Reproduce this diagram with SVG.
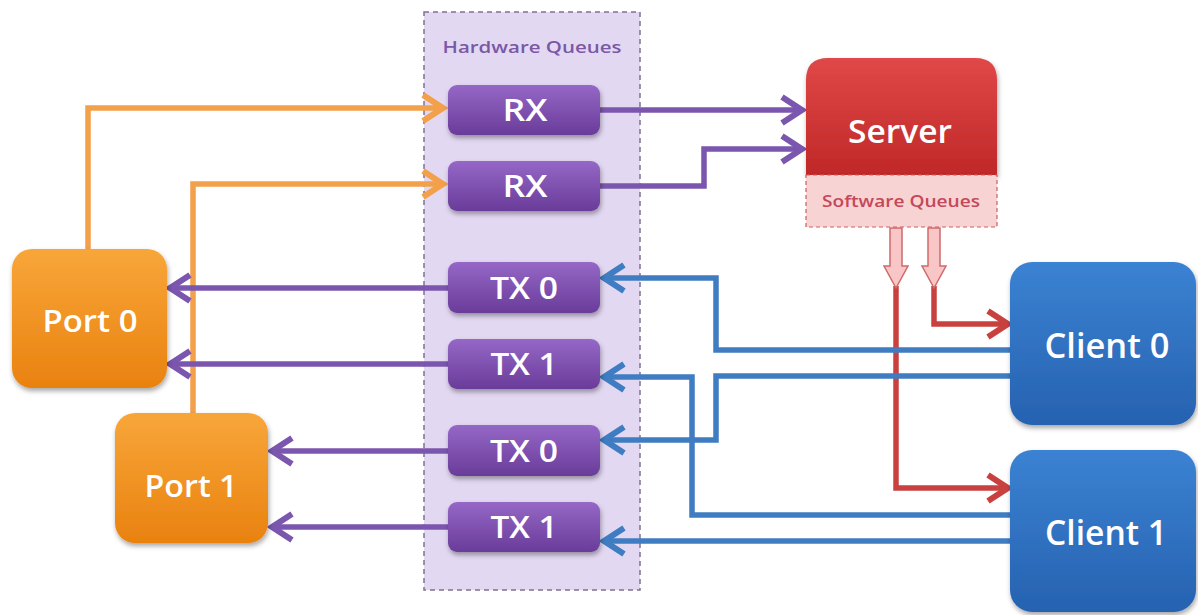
<svg xmlns="http://www.w3.org/2000/svg" width="1198" height="615" viewBox="0 0 1198 615">
<defs>
<style>
.lbl{font-family:"Open Sans",Lato,"Liberation Sans",sans-serif;fill:#ffffff;text-anchor:middle;font-weight:600}
.big{font-size:31px}
.q{font-size:30px}
.or{fill:none;stroke:#f3a04a;stroke-width:5.5}
.pu{fill:none;stroke:#7b56ae;stroke-width:5.5}
.bl{fill:none;stroke:#3f7cc2;stroke-width:5.5}
.rd{fill:none;stroke:#c8413f;stroke-width:5.5}
</style>
<linearGradient id="gOr" x1="0" y1="0" x2="0" y2="1"><stop offset="0" stop-color="#f8a63a"/><stop offset="1" stop-color="#e9820f"/></linearGradient>
<linearGradient id="gPu" x1="0" y1="0" x2="0" y2="1"><stop offset="0" stop-color="#9567c6"/><stop offset="1" stop-color="#6a3c9a"/></linearGradient>
<linearGradient id="gBl" x1="0" y1="0" x2="0" y2="1"><stop offset="0" stop-color="#3b82d3"/><stop offset="1" stop-color="#2662b0"/></linearGradient>
<linearGradient id="gRd" x1="0" y1="0" x2="0" y2="1"><stop offset="0" stop-color="#e04848"/><stop offset="1" stop-color="#c02828"/></linearGradient>
<filter id="sh" x="-10%" y="-10%" width="130%" height="130%"><feDropShadow dx="1" dy="3" stdDeviation="2.5" flood-color="#000" flood-opacity="0.35"/></filter>
<marker id="aOr" markerUnits="userSpaceOnUse" markerWidth="34" markerHeight="34" viewBox="-26 -17 30 34" refX="0" refY="0" orient="auto"><path d="M-20,-13 L0,0 L-20,13" fill="none" stroke="#f3a04a" stroke-width="6"/></marker>
<marker id="aPu" markerUnits="userSpaceOnUse" markerWidth="34" markerHeight="34" viewBox="-26 -17 30 34" refX="0" refY="0" orient="auto"><path d="M-20,-13 L0,0 L-20,13" fill="none" stroke="#7b56ae" stroke-width="6"/></marker>
<marker id="aBl" markerUnits="userSpaceOnUse" markerWidth="34" markerHeight="34" viewBox="-26 -17 30 34" refX="0" refY="0" orient="auto"><path d="M-20,-13 L0,0 L-20,13" fill="none" stroke="#3f7cc2" stroke-width="6"/></marker>
<marker id="aRd" markerUnits="userSpaceOnUse" markerWidth="34" markerHeight="34" viewBox="-26 -17 30 34" refX="0" refY="0" orient="auto"><path d="M-20,-13 L0,0 L-20,13" fill="none" stroke="#c8413f" stroke-width="6"/></marker>
</defs>
<rect width="1198" height="615" fill="#ffffff"/>

<g id="hwq">
<rect x="424" y="12" width="216" height="578" fill="#e3d8f2" stroke="#7f7296" stroke-width="1.5" stroke-dasharray="5,4"/>
<text x="532" y="53" font-family="'Open Sans',Lato,'Liberation Sans',sans-serif" font-size="17" font-weight="600" fill="#7a58a6" text-anchor="middle" textLength="179" lengthAdjust="spacingAndGlyphs">Hardware Queues</text>
</g>

<g id="connectors">
<path class="or" d="M88,250 V108 H443" marker-end="url(#aOr)"/>
<path class="or" d="M193,413 V184 H443" marker-end="url(#aOr)"/>
<path class="pu" d="M600,110 H802" marker-end="url(#aPu)"/>
<path class="pu" d="M600,186 H704 V149 H802" marker-end="url(#aPu)"/>
<path class="pu" d="M448,288 H170" marker-end="url(#aPu)"/>
<path class="pu" d="M448,364 H170" marker-end="url(#aPu)"/>
<path class="pu" d="M448,451 H272" marker-end="url(#aPu)"/>
<path class="pu" d="M448,527 H272" marker-end="url(#aPu)"/>
<path class="rd" d="M896,286 V488 H1008" marker-end="url(#aRd)"/>
<path class="rd" d="M934,286 V324 H1008" marker-end="url(#aRd)"/>
<path class="bl" d="M1010,350 H716 V278 H604" marker-end="url(#aBl)"/>
<path class="bl" d="M1010,376 H716 V440 H604" marker-end="url(#aBl)"/>
<path class="bl" d="M1010,515 H692 V377 H604" marker-end="url(#aBl)"/>
<path class="bl" d="M1010,541 H604" marker-end="url(#aBl)"/>
<path d="M890,228 H902 V266 H908 L896,288 L884,266 H890 Z" fill="#f8c6c6" stroke="#d06a6a" stroke-width="1.5"/>
<path d="M928,228 H940 V266 H946 L934,288 L922,266 H928 Z" fill="#f8c6c6" stroke="#d06a6a" stroke-width="1.5"/>
</g>

<g id="rx0"><rect x="448" y="85" width="152" height="50" rx="9" fill="url(#gPu)" filter="url(#sh)"/><text class="lbl q" x="525" y="121" textLength="45" lengthAdjust="spacingAndGlyphs">RX</text></g>
<g id="rx1"><rect x="448" y="161" width="152" height="50" rx="9" fill="url(#gPu)" filter="url(#sh)"/><text class="lbl q" x="525" y="197" textLength="45" lengthAdjust="spacingAndGlyphs">RX</text></g>
<g id="tx0a"><rect x="448" y="262" width="152" height="51" rx="9" fill="url(#gPu)" filter="url(#sh)"/><text class="lbl q" x="524" y="299" textLength="68" lengthAdjust="spacingAndGlyphs">TX 0</text></g>
<g id="tx1a"><rect x="448" y="339" width="152" height="50" rx="9" fill="url(#gPu)" filter="url(#sh)"/><text class="lbl q" x="524" y="375" textLength="67" lengthAdjust="spacingAndGlyphs">TX 1</text></g>
<g id="tx0b"><rect x="448" y="425" width="152" height="51" rx="9" fill="url(#gPu)" filter="url(#sh)"/><text class="lbl q" x="524" y="462" textLength="68" lengthAdjust="spacingAndGlyphs">TX 0</text></g>
<g id="tx1b"><rect x="448" y="502" width="152" height="50" rx="9" fill="url(#gPu)" filter="url(#sh)"/><text class="lbl q" x="524" y="538" textLength="67" lengthAdjust="spacingAndGlyphs">TX 1</text></g>

<g id="port0"><rect x="12" y="249" width="155" height="139" rx="20" fill="url(#gOr)" filter="url(#sh)"/><text class="lbl big" x="90" y="332" textLength="95" lengthAdjust="spacingAndGlyphs">Port 0</text></g>
<g id="port1"><rect x="115" y="413" width="153" height="130" rx="20" fill="url(#gOr)" filter="url(#sh)"/><text class="lbl big" x="191" y="497" textLength="93" lengthAdjust="spacingAndGlyphs">Port 1</text></g>

<g id="server">
<path d="M828,58 H975 Q997,58 997,80 V175 H806 V80 Q806,58 828,58 Z" fill="url(#gRd)" filter="url(#sh)"/>
<text class="lbl" x="900" y="143" font-size="32" textLength="104" lengthAdjust="spacingAndGlyphs">Server</text>
<rect x="806" y="175" width="191" height="52" fill="#f8d3d3" stroke="#c96060" stroke-width="1.2" stroke-dasharray="4,3"/>
<text x="901" y="207" font-family="'Open Sans',Lato,'Liberation Sans',sans-serif" font-size="16" font-weight="600" fill="#c4485a" text-anchor="middle" textLength="158" lengthAdjust="spacingAndGlyphs">Software Queues</text>
</g>

<g id="client0"><rect x="1010" y="262" width="186" height="163" rx="22" fill="url(#gBl)" filter="url(#sh)"/><text class="lbl" font-size="34" x="1107" y="358" textLength="125" lengthAdjust="spacingAndGlyphs">Client 0</text></g>
<g id="client1"><rect x="1010" y="450" width="186" height="162" rx="22" fill="url(#gBl)" filter="url(#sh)"/><text class="lbl" font-size="34" x="1106" y="545" textLength="122" lengthAdjust="spacingAndGlyphs">Client 1</text></g>
</svg>
